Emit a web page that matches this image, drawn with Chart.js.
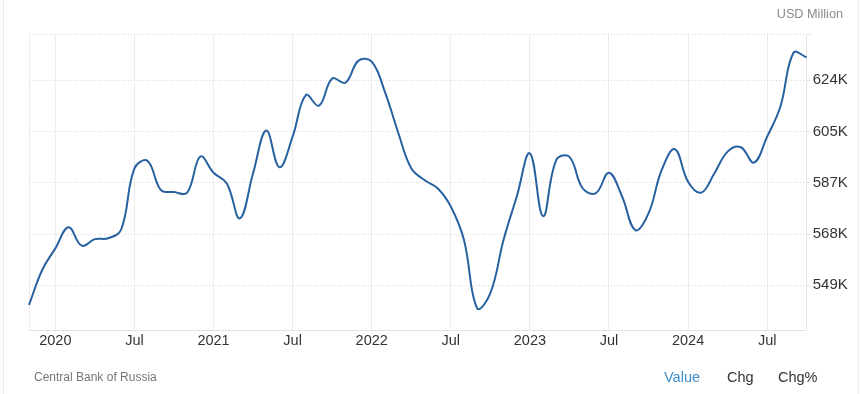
<!DOCTYPE html>
<html>
<head>
<meta charset="utf-8">
<script src="https://cdn.jsdelivr.net/npm/chart.js@4"></script>
<style>
  body { margin: 0; background: #fff; font-family: "Liberation Sans", Arial, sans-serif; }
  #wrap { position: relative; width: 861px; height: 394px; overflow: hidden; }
  #wrap canvas { position: absolute; left: 0; top: 0; }
  .edge { position: absolute; top: 0; width: 1px; height: 394px; background: #ececec; }
  .txt { position: absolute; line-height: 16px; white-space: nowrap; }
</style>
</head>
<body>
<div id="wrap">
  <canvas id="reserves" width="861" height="394"></canvas>
  <div class="edge" style="left:3px"></div>
  <div class="edge" style="left:858px"></div>
  <div class="txt" style="right:18px; top:6px; font-size:12.7px; color:#8c8c8c">USD Million</div>
  <div class="txt" style="left:34px; top:369px; font-size:12px; color:#777">Central Bank of Russia</div>
  <div class="txt" style="left:664px; top:369px; font-size:14.5px; color:#3d8fcc">Value</div>
  <div class="txt" style="left:727px; top:369px; font-size:14.5px; color:#333">Chg</div>
  <div class="txt" style="left:778px; top:369px; font-size:14.5px; color:#333">Chg%</div>
</div>
<script>
// monthly foreign exchange reserves, USD million
var months = ['2019-11','2019-12',
  '2020-01','2020-02','2020-03','2020-04','2020-05','2020-06','2020-07','2020-08','2020-09','2020-10','2020-11','2020-12',
  '2021-01','2021-02','2021-03','2021-04','2021-05','2021-06','2021-07','2021-08','2021-09','2021-10','2021-11','2021-12',
  '2022-01','2022-02','2022-03','2022-04','2022-05','2022-06','2022-07','2022-08','2022-09','2022-10','2022-11','2022-12',
  '2023-01','2023-02','2023-03','2023-04','2023-05','2023-06','2023-07','2023-08','2023-09','2023-10','2023-11','2023-12',
  '2024-01','2024-02','2024-03','2024-04','2024-05','2024-06','2024-07','2024-08','2024-09','2024-10'];

var reserves = [541800, 554600,
  562500, 570200, 563500, 565900, 566200, 569500, 591800, 594500, 583900, 583100, 582900, 596100,
  590200, 586300, 573500, 590000, 605600, 592200, 603400, 618600, 614700, 624700, 623100, 631200,
  630800, 619800, 605000, 591800, 587500, 584500, 577800, 565600, 540600, 546100, 565600, 581400,
  597300, 574300, 594800, 596000, 584500, 582700, 590200, 581400, 569200, 575300, 591200, 598800,
  586900, 582900, 590000, 597900, 599500, 593900, 603400, 614300, 634100, 632400];

var tickMonths = ['2020-01','2020-07','2021-01','2021-07','2022-01','2022-07','2023-01','2023-07','2024-01','2024-07'];
var tickText   = ['2020','Jul','2021','Jul','2022','Jul','2023','Jul','2024','Jul'];

var yTicks = [549000, 567750, 586500, 605250, 624000];
var yMin = 532640;
var yMax = 640940;

var fontFam = '"Liberation Sans", Arial, sans-serif';

var ctx = document.getElementById('reserves').getContext('2d');
var chart = new Chart(ctx, {
  type: 'line',
  data: {
    labels: months,
    datasets: [{
      data: reserves,
      borderColor: '#2761a0',
      borderWidth: 2,
      pointRadius: 0,
      tension: 0.4,
      fill: false
    }]
  },
  options: {
    responsive: false,
    animation: false,
    layout: { padding: { left: 29, top: 34, right: 0, bottom: 0 } },
    plugins: { legend: { display: false }, tooltip: { enabled: false } },
    scales: {
      x: {
        type: 'category',
        offset: false,
        afterBuildTicks: function(s) {
          s.ticks = s.ticks.filter(function(t) {
            return t.value === 0 || tickMonths.indexOf(months[t.value]) >= 0;
          });
        },
        afterFit: function(s) { s.height = 64; },
        ticks: {
          autoSkip: false,
          maxRotation: 0,
          padding: 2,
          color: '#333',
          font: { size: 14.5, family: fontFam },
          callback: function(v) {
            var k = tickMonths.indexOf(months[v]);
            return k >= 0 ? tickText[k] : '';
          }
        },
        grid: { color: '#ececec', drawTicks: false },
        border: { color: '#e2e2e2' }
      },
      y: {
        position: 'right',
        min: yMin,
        max: yMax,
        afterBuildTicks: function(s) {
          s.ticks = yTicks.concat([yMax]).map(function(v) { return { value: v }; });
        },
        afterFit: function(s) { s.width = 54.3; },
        ticks: {
          padding: 2,
          color: '#333',
          font: { size: 15, family: fontFam },
          callback: function(v) { return v === yMax ? '' : Math.round(v / 1000) + 'K'; }
        },
        grid: { color: '#d6d6d6', tickLength: 4, tickColor: '#e6e6e6' },
        border: { display: true, color: '#e6e6e6', dash: [1, 2] }
      }
    }
  }
});
</script>
</body>
</html>
